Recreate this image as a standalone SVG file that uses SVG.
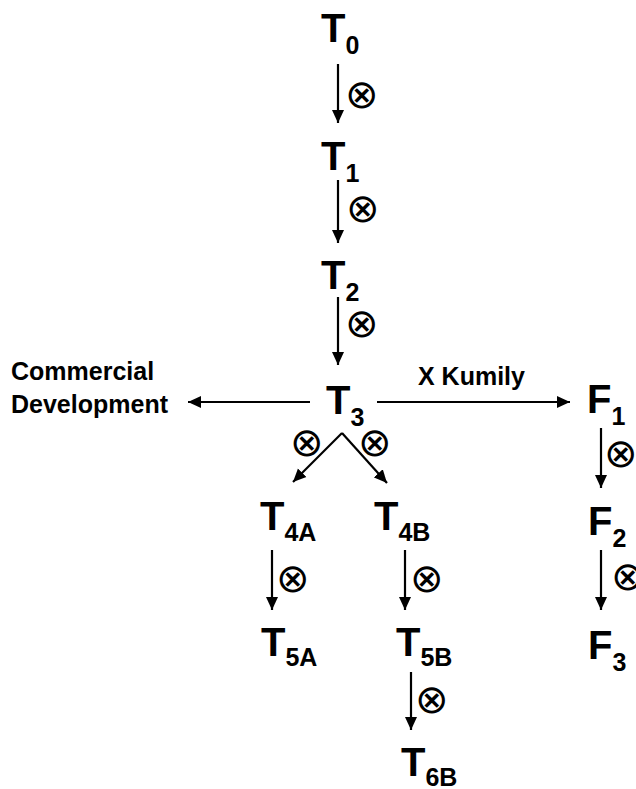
<svg xmlns="http://www.w3.org/2000/svg" width="636" height="789" viewBox="0 0 636 789">
<style>
.n{font-family:"Liberation Sans",Arial,sans-serif;font-weight:bold;fill:#000}
.m{font-size:40px}
.s{font-size:25px}
.lbl{font-family:"Liberation Sans",Arial,sans-serif;font-weight:bold;font-size:25px;fill:#000}
.x{font-family:"DejaVu Sans",sans-serif;font-weight:200;font-size:40px;fill:#000;text-anchor:middle;dominant-baseline:central}
.c{stroke:#000;stroke-width:2.2;fill:none;marker-end:url(#ah)}
</style>
<defs>
<marker id="ah" markerUnits="userSpaceOnUse" markerWidth="14" markerHeight="14" viewBox="0 0 14 14" refX="13" refY="7" orient="auto">
<path d="M0,1 L13,7 L0,13 Z" fill="#000"/>
</marker>
</defs>
<rect width="636" height="789" fill="#fff"/>
<g id="connectors">
<line class="c" x1="338" y1="64" x2="338" y2="123"/>
<line class="c" x1="338" y1="180" x2="338" y2="243"/>
<line class="c" x1="338" y1="297" x2="338" y2="365"/>
<line class="c" x1="310" y1="402" x2="188" y2="402"/>
<line class="c" x1="377" y1="402" x2="570" y2="402"/>
<polyline class="c" points="342,433 293,482"/>
<polyline class="c" points="342,433 387,483"/>
<line class="c" x1="272" y1="550" x2="272" y2="610"/>
<line class="c" x1="405" y1="550" x2="405" y2="610"/>
<line class="c" x1="411" y1="672" x2="411" y2="730"/>
<line class="c" x1="601" y1="428" x2="601" y2="488"/>
<line class="c" x1="601" y1="550" x2="601" y2="610"/>
<text class="x" x="362" y="94">⊗</text>
<text class="x" x="363" y="208">⊗</text>
<text class="x" x="362" y="323">⊗</text>
<text class="x" x="307" y="442">⊗</text>
<text class="x" x="375" y="442">⊗</text>
<text class="x" x="293" y="578">⊗</text>
<text class="x" x="427" y="578">⊗</text>
<text class="x" x="432" y="699">⊗</text>
<text class="x" x="621" y="453">⊗</text>
<text class="x" x="628" y="576">⊗</text>
<text class="lbl" x="418" y="385">X Kumily</text>
</g>
<g id="T0"><text class="n" x="321" y="42"><tspan class="m">T</tspan><tspan class="s" dy="12">0</tspan></text></g>
<g id="T1"><text class="n" x="321" y="170"><tspan class="m">T</tspan><tspan class="s" dy="12">1</tspan></text></g>
<g id="T2"><text class="n" x="321" y="289"><tspan class="m">T</tspan><tspan class="s" dy="12">2</tspan></text></g>
<g id="T3"><text class="n" x="326" y="414"><tspan class="m">T</tspan><tspan class="s" dy="12">3</tspan></text></g>
<g id="CommercialDevelopment"><text class="lbl" x="11" y="380">Commercial</text><text class="lbl" x="11" y="413">Development</text></g>
<g id="F1"><text class="n" x="587" y="413"><tspan class="m">F</tspan><tspan class="s" dy="12">1</tspan></text></g>
<g id="F2"><text class="n" x="588" y="535"><tspan class="m">F</tspan><tspan class="s" dy="12">2</tspan></text></g>
<g id="F3"><text class="n" x="588" y="659"><tspan class="m">F</tspan><tspan class="s" dy="12">3</tspan></text></g>
<g id="T4A"><text class="n" x="260" y="530"><tspan class="m">T</tspan><tspan class="s" dy="11">4A</tspan></text></g>
<g id="T4B"><text class="n" x="374" y="530"><tspan class="m">T</tspan><tspan class="s" dy="11">4B</tspan></text></g>
<g id="T5A"><text class="n" x="261" y="656"><tspan class="m">T</tspan><tspan class="s" dy="10">5A</tspan></text></g>
<g id="T5B"><text class="n" x="396" y="656"><tspan class="m">T</tspan><tspan class="s" dy="10">5B</tspan></text></g>
<g id="T6B"><text class="n" x="401" y="776"><tspan class="m">T</tspan><tspan class="s" dy="10">6B</tspan></text></g>
</svg>
